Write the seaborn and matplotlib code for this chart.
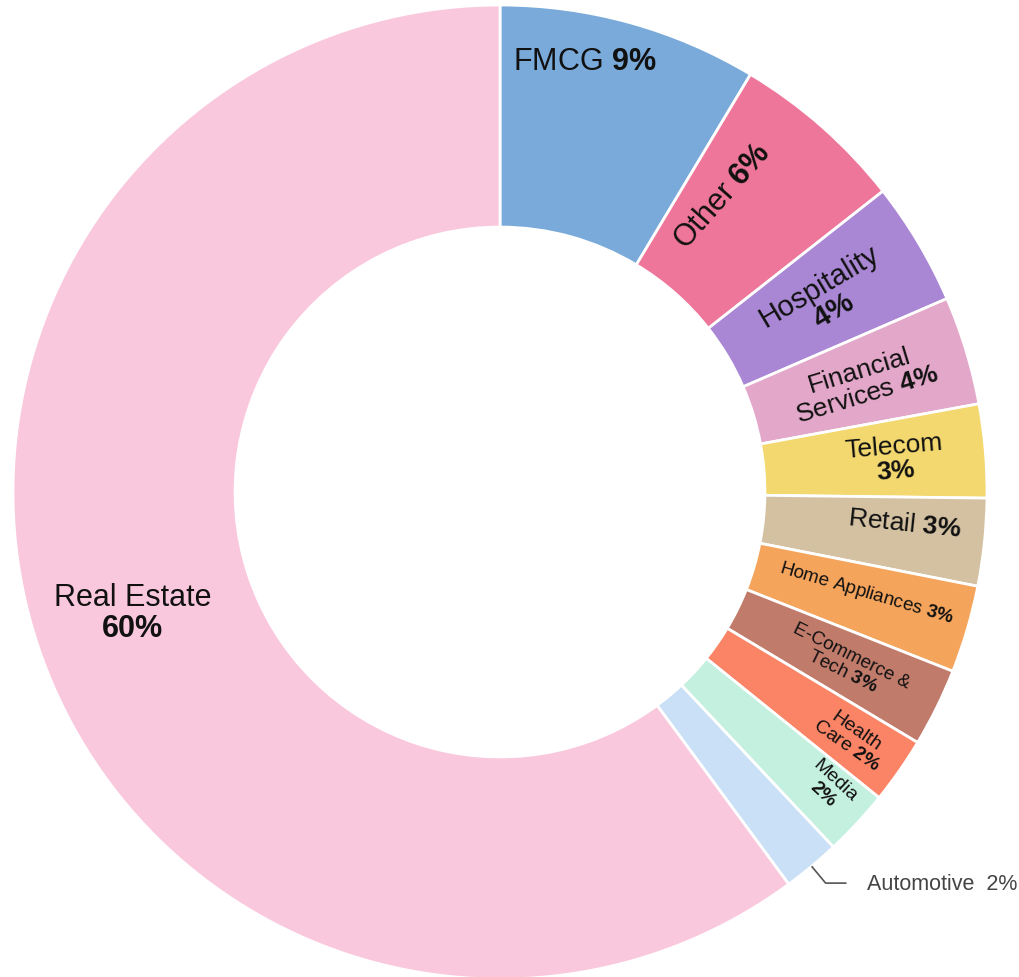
import numpy as np
import matplotlib
matplotlib.use('Agg')
import matplotlib.pyplot as plt
import seaborn as sns

#----------------------------------------------------
sectors = ['FMCG', 'Other', 'Hospitality', 'Financial Services', 'Telecom', 'Retail',
           'Home Appliances', 'E-Commerce & Tech', 'Health Care', 'Media', 'Automotive', 'Real Estate']
shares = [8.6, 5.8, 4.1, 3.6, 3.1, 2.9, 2.9, 2.6, 2.2, 2.2, 1.9, 60.1]
# how each name is broken over lines in the slice label
label_names = ['FMCG', 'Other', 'Hospitality\n', 'Financial\nServices', 'Telecom\n', 'Retail',
               'Home Appliances', 'E-Commerce &\nTech', 'Health\nCare', 'Media\n', 'Automotive', 'Real Estate\n']
cmap = ['#79aad9', '#ee769a', '#a987d4', '#e3a7c9', '#f2d86f', '#d3c1a2',
        '#f5a45c', '#c17b6b', '#fa8465', '#c4f0e0', '#c9e0f6', '#fac8dc']

# label style: font size, rotate radially, radius fraction, angle nudge (deg)
lab_style = [(22, False, 0.902, 4.3), (22, True, 0.76, 4.5), (21, True, 0.78, 0),
             (19, True, 0.78, 0), (19, True, 0.814, 0), (19, True, 0.834, 1.5),
             (13.5, True, 0.78, 1), (13.5, True, 0.795, 0), (14, True, 0.88, 0),
             (14, True, 0.907, 1), (15.5, False, None, 0), (22, False, 0.794, 0)]

#----------------------------------------------------
sns.set_style('white')
plt.rcParams['font.family'] = ['Liberation Sans', 'DejaVu Sans']
plt.rcParams['mathtext.fontset'] = 'custom'
plt.rcParams['mathtext.rm'] = 'Liberation Sans'
plt.rcParams['mathtext.bf'] = 'Liberation Sans:bold'

R = 487  # outer radius in px
fig = plt.figure(figsize=(10.19, 9.78), dpi=100)
ax = fig.add_axes([0, 0, 1, 1])
palette = sns.color_palette(cmap)
wedges, _ = ax.pie(shares, colors=palette, startangle=90, counterclock=False, radius=1,
                   wedgeprops=dict(width=0.456, edgecolor='white', linewidth=2))
ax.set_xlim(-500 / R, 519 / R)
ax.set_ylim(-485 / R, 493 / R)
ax.set_aspect('equal')
ax.axis('off')

for i, w in enumerate(wedges):
	theta = (w.theta1 + w.theta2) / 2
	pct = round(shares[i])
	size, rotate, rf, dth = lab_style[i]
	t = np.deg2rad(theta)
	if sectors[i] == 'Automotive':
		# outside label with an elbow leader line
		x0, y0 = np.cos(t), np.sin(t)
		x1, y1 = 1.045 * np.cos(t), 1.045 * np.sin(t)
		ax.plot([x0, x1, x1 + 0.043], [y0, y1, y1], color='#555555', lw=1.2, solid_capstyle='butt')
		ax.text(x1 + 0.085, y1, f'{label_names[i]}  {pct}%', fontsize=size, color='#444444',
		        ha='left', va='center')
		continue
	name = label_names[i]
	pct_txt = r'$\mathbf{' + str(pct) + r'\%}$'
	txt = name + pct_txt if name.endswith('\n') else name + ' ' + pct_txt
	ta = np.deg2rad(theta + dth)
	x, y = rf * np.cos(ta), rf * np.sin(ta)
	rot = 0
	if rotate:
		rot = theta % 360
		if 90 < rot < 270:
			rot -= 180
		if rot > 270:
			rot -= 360
	ax.text(x, y, txt, fontsize=size, color='#111111', ha='center', va='center',
	        rotation=rot, rotation_mode='anchor', multialignment='center', linespacing=1.05)

fig.savefig('out.png', dpi=100, facecolor='white')
plt.close()
